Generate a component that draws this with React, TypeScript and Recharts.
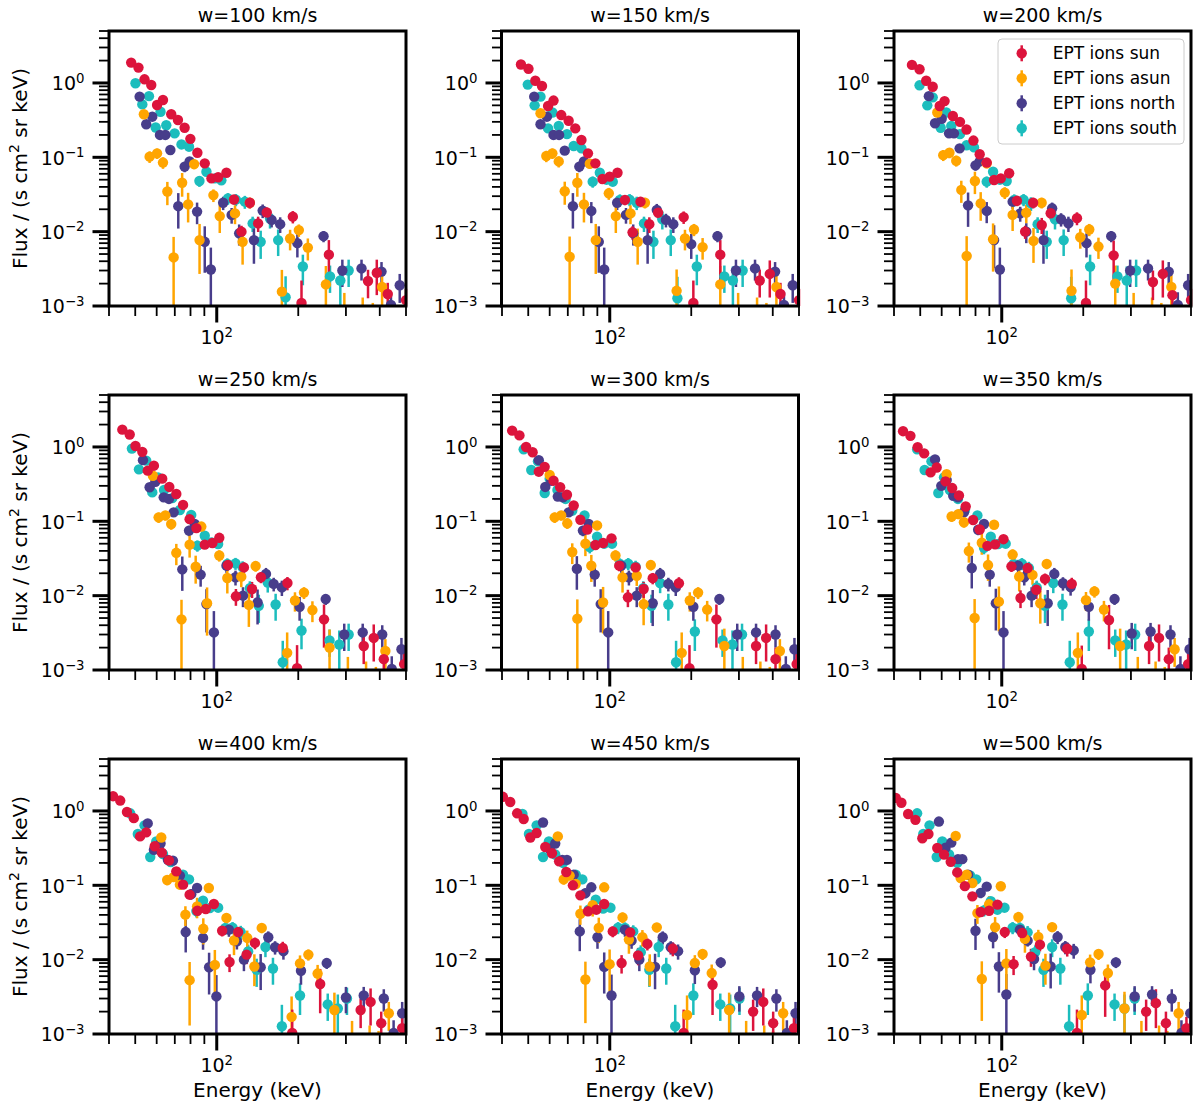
import React from 'react';
import { ScatterChart, Scatter, XAxis, YAxis, ErrorBar } from 'recharts';

// [energy keV, flux, 1-sigma error]
type Row = [number, number, number];

const FONT = '"DejaVu Sans", Verdana, sans-serif';

const COLORS = {
  sun: '#DC143C',
  asun: '#FFA500',
  north: '#483D8B',
  south: '#1CBDBD',
};

const SERIES_NAMES = ['EPT ions sun', 'EPT ions asun', 'EPT ions north', 'EPT ions south'];

const X_DOMAIN = [40, 500];
const Y_DOMAIN = [0.001, 5];
const X_TICKS = [40, 50, 60, 70, 80, 90, 100, 200, 300, 400, 500];
const Y_TICKS = [
  0.001, 0.002, 0.003, 0.004, 0.005, 0.006, 0.007, 0.008, 0.009,
  0.01, 0.02, 0.03, 0.04, 0.05, 0.06, 0.07, 0.08, 0.09,
  0.1, 0.2, 0.3, 0.4, 0.5, 0.6, 0.7, 0.8, 0.9,
  1, 2, 3, 4, 5,
];
const Y_MAJOR: Record<string, string> = { '0.001': '\u22123', '0.01': '\u22122', '0.1': '\u22121', '1': '0' };

// ---- w = 100 km/s
const w100Sun: Row[] = [[48.3,1.88,0],[51.4,1.61,0],[54.1,1.12,0],[57.3,0.94,0],[60.2,0.505,0],[63.3,0.59,0],[67.9,0.38,0],[71.9,0.318,0],[76.1,0.25,0],[79.9,0.177,0],[84.8,0.115,0],[90.3,0.083,0.005],[95.6,0.052,0.004],[101.2,0.054,0.004],[108.6,0.062,0.004],[115.8,0.0271,0.004],[123.4,0.01,0.002],[132.5,0.0245,0.004],[142.2,0.0129,0.003],[153,0.0181,0.003],[191,0.0159,0.003],[205.6,0.0011,0.0011],[259.5,0.0049,0.0028],[362,0.00217,0.0009],[390,0.0028,0.0014],[428,0.00145,0.0006],[500,0.0012,0.0005]];
const w100Asun: Row[] = [[53.8,0.38,0],[56.5,0.102,0.018],[60.2,0.113,0.018],[63.3,0.085,0.015],[65.7,0.0347,0.012],[69.3,0.0045,0.004],[74.5,0.0455,0.016],[78.4,0.0233,0.01],[82.5,0.081,0.012],[86.4,0.0077,0.005],[97.2,0.031,0.006],[102.6,0.0162,0.0066],[116.8,0.0176,0.005],[124.6,0.0073,0.0037],[132.5,0.0245,0.004],[174,0.00156,0.0015],[186.6,0.0081,0.0025],[201,0.0105,0.002],[217,0.0061,0.002],[253,0.00195,0.0015],[296,0.0006,0.0009],[346,0.0005,0.0008],[377,0.0004,0.0007],[408,0.0018,0.0008]];
const w100North: Row[] = [[51.9,0.655,0],[54.9,0.278,0],[57.8,0.352,0],[61.7,0.2,0],[64.6,0.2,0],[67.4,0.1255,0.015],[72.1,0.022,0.011],[76.1,0.075,0.012],[79.4,0.088,0.012],[84.6,0.0186,0.006],[90.3,0.0073,0.0045],[95.1,0.0031,0.003],[105.6,0.0245,0.005],[113.5,0.0168,0.004],[121,0.0095,0.003],[137.2,0.0077,0.004],[147.8,0.0192,0.004],[159.5,0.0144,0.003],[171.5,0.0126,0.003],[198.5,0.007,0.0025],[248,0.0087,0.0015],[291,0.003,0.0012],[342.5,0.0032,0.001],[406,0.0029,0.001],[440,0.00103,0.0005],[474,0.0019,0.0008]];
const w100South: Row[] = [[50.1,0.99,0],[53.1,0.515,0],[56.2,0.665,0],[59.5,0.252,0],[62,0.41,0],[65.1,0.27,0],[69.9,0.21,0],[74.1,0.149,0.01],[79,0.139,0.01],[86.3,0.048,0.008],[91.6,0.064,0.008],[98.4,0.052,0.006],[104,0.049,0.006],[110,0.028,0.005],[117.7,0.027,0.005],[127,0.0253,0.005],[135.7,0.0129,0.003],[145.3,0.0073,0.003],[157.3,0.015,0.004],[168.6,0.0077,0.003],[179.6,0.00131,0.0012],[208,0.0034,0.0015],[262,0.0025,0.001],[286,0.0022,0.0012],[307,0.003,0.0012]];

// ---- w = 150 km/s
const w150Sun: Row[] = [[47,1.77,0],[50.1,1.55,0],[53.1,1.07,0],[56.2,0.91,0],[59.2,0.49,0],[62,0.58,0],[66.2,0.37,0],[70.5,0.31,0],[74.6,0.245,0],[78.6,0.171,0],[83.1,0.113,0],[88.5,0.083,0.005],[94,0.051,0.004],[99.9,0.055,0.004],[106.8,0.062,0.004],[113.8,0.0267,0.004],[121.4,0.0098,0.002],[129.9,0.0253,0.004],[140,0.0126,0.003],[150.9,0.018,0.003],[187.5,0.0157,0.003],[203.6,0.0011,0.0011],[256,0.0049,0.0028],[358,0.0022,0.0009],[390,0.0027,0.0014],[427,0.00145,0.0006],[500,0.0012,0.0005]];
const w150Asun: Row[] = [[55.5,0.391,0],[58.3,0.104,0.018],[61.4,0.113,0.018],[64.8,0.088,0.015],[68.2,0.035,0.012],[71.1,0.0046,0.004],[75.9,0.0455,0.016],[80.3,0.0233,0.01],[84.4,0.082,0.012],[88.8,0.0077,0.005],[99.2,0.0328,0.006],[105.3,0.0162,0.0066],[119.3,0.0176,0.005],[126.8,0.0073,0.0037],[134.9,0.0245,0.004],[176.6,0.0016,0.0015],[189.6,0.0081,0.0025],[204.7,0.0107,0.002],[220.3,0.0062,0.002],[256,0.00195,0.0015],[298,0.0006,0.0009],[350,0.0005,0.0008],[379,0.0004,0.0007],[412.6,0.0018,0.0008]];
const w150North: Row[] = [[52.6,0.655,0],[55.5,0.278,0],[58.6,0.352,0],[62,0.2,0],[65,0.2,0],[68.2,0.123,0.015],[73.1,0.022,0.011],[77.2,0.075,0.012],[80.3,0.088,0.012],[85.5,0.019,0.006],[91.1,0.0073,0.0045],[95.4,0.0031,0.003],[106.5,0.0245,0.005],[114.8,0.0168,0.004],[122.1,0.0095,0.003],[138,0.0077,0.004],[149.2,0.0196,0.004],[161.3,0.0144,0.003],[171.7,0.0126,0.003],[200,0.0068,0.0025],[250,0.0087,0.0015],[292.5,0.003,0.0012],[344,0.0032,0.001],[408,0.0029,0.001],[440,0.00103,0.0005],[474,0.0019,0.0008]];
const w150South: Row[] = [[49.8,0.95,0],[52.8,0.5,0],[55.5,0.655,0],[59.2,0.245,0],[61.4,0.4,0],[64.8,0.264,0],[69.5,0.205,0],[73.6,0.142,0.01],[78.6,0.132,0.01],[86.5,0.047,0.008],[91.9,0.062,0.008],[97.3,0.05,0.006],[102.6,0.047,0.006],[109,0.0267,0.005],[118.4,0.027,0.005],[125.8,0.0245,0.005],[133.8,0.0129,0.003],[145,0.0073,0.003],[156.4,0.0147,0.004],[168,0.0077,0.003],[177.8,0.00127,0.0012],[209.7,0.0034,0.0015],[265,0.0025,0.001],[285,0.0022,0.0012],[309.6,0.003,0.0012]];

// ---- w = 200 km/s
const w200Sun: Row[] = [[46.6,1.75,0],[49.7,1.53,0],[52.6,1.07,0],[55.6,0.89,0],[59,0.49,0],[61.5,0.57,0],[66,0.36,0],[70.1,0.3,0],[74.1,0.237,0],[78.6,0.168,0],[82.9,0.11,0],[88,0.085,0.005],[93.7,0.0495,0.004],[99.2,0.052,0.004],[106.5,0.061,0.004],[113.8,0.026,0.004],[122,0.01,0.002],[130.6,0.0245,0.004],[140.5,0.0123,0.003],[151.6,0.0177,0.003],[189.6,0.0152,0.003],[204.7,0.0011,0.0011],[259,0.0048,0.0028],[361.7,0.0021,0.0009],[393.5,0.0027,0.0014],[427,0.0014,0.0006],[500,0.0012,0.0005]];
const w200Asun: Row[] = [[57.8,0.4,0],[60.8,0.107,0.018],[64.1,0.115,0.018],[67.9,0.09,0.015],[70.9,0.0364,0.012],[74.2,0.0047,0.004],[79.6,0.048,0.016],[83.6,0.024,0.01],[88,0.083,0.012],[92.9,0.0079,0.005],[102.6,0.0335,0.006],[109.7,0.0168,0.0066],[123.2,0.018,0.005],[131,0.0075,0.0037],[140.4,0.0245,0.004],[181,0.0016,0.0015],[195,0.0084,0.0025],[210.5,0.0107,0.002],[227.6,0.0063,0.002],[262.5,0.002,0.0015],[307,0.0006,0.0009],[359,0.0005,0.0008],[388.6,0.0004,0.0007],[423,0.0018,0.0008]];
const w200North: Row[] = [[53.8,0.665,0],[56.7,0.287,0],[60,0.33,0],[63.9,0.21,0],[66.6,0.21,0],[69.9,0.132,0.015],[75.1,0.0226,0.011],[80,0.078,0.012],[82.9,0.088,0.012],[88,0.019,0.006],[93.7,0.0077,0.0045],[98.4,0.0031,0.003],[109.7,0.0253,0.005],[117,0.0176,0.004],[123.2,0.01,0.003],[142.6,0.0077,0.004],[153.5,0.0206,0.004],[165.6,0.0147,0.003],[176.3,0.0129,0.003],[205.6,0.007,0.0025],[253.7,0.0087,0.0015],[298,0.003,0.0012],[347,0.0032,0.001],[413.7,0.0029,0.001],[447,0.00103,0.0005],[488,0.0019,0.0008]];
const w200South: Row[] = [[49.7,0.93,0],[53.1,0.5,0],[55.6,0.64,0],[59.5,0.25,0],[62.4,0.4,0],[65.1,0.264,0],[70.1,0.205,0],[74.1,0.145,0.01],[79,0.136,0.01],[88,0.047,0.008],[92.9,0.064,0.008],[98.4,0.05,0.006],[104.3,0.048,0.006],[111.2,0.0267,0.005],[120.4,0.027,0.005],[128.2,0.024,0.005],[135.7,0.0126,0.003],[146.6,0.0073,0.003],[157.3,0.0147,0.004],[169.3,0.0077,0.003],[180.5,0.00127,0.0012],[212,0.0034,0.0015],[267.5,0.0025,0.001],[289.5,0.0022,0.0012],[313.6,0.003,0.0012]];

// ---- w = 250 km/s
const w250Sun: Row[] = [[44.8,1.71,0],[47.7,1.47,0],[50.1,1.03,0],[53.1,0.86,0],[55.6,0.48,0],[58.6,0.56,0],[62.9,0.375,0],[66.8,0.29,0],[70.9,0.233,0],[75.1,0.166,0],[79.4,0.107,0],[84.1,0.081,0.005],[90.3,0.0485,0.004],[96.4,0.051,0.004],[102.2,0.06,0.004],[110,0.0258,0.004],[117.7,0.0098,0.0025],[126,0.024,0.004],[135,0.0123,0.003],[145.6,0.0177,0.003],[182.4,0.0148,0.003],[198,0.00106,0.0011],[249,0.0048,0.0028],[349,0.0021,0.0009],[380,0.0027,0.0014],[414,0.0014,0.0006],[492,0.0012,0.0005]];
const w250Asun: Row[] = [[58.1,0.41,0],[61,0.113,0.018],[64.6,0.12,0.018],[67.9,0.092,0.015],[70.9,0.0377,0.012],[74.1,0.0048,0.004],[79.4,0.0485,0.016],[83.6,0.0245,0.01],[87.7,0.085,0.012],[92.1,0.0079,0.005],[102.2,0.0347,0.006],[109.4,0.0173,0.0066],[123.2,0.018,0.005],[131.4,0.0075,0.0037],[139.2,0.025,0.004],[182,0.0017,0.0015],[194.5,0.0086,0.0025],[210,0.011,0.002],[225.6,0.0064,0.002],[261,0.002,0.0015],[305,0.0006,0.0009],[356,0.0005,0.0008],[387,0.0004,0.0007],[419.6,0.0018,0.0008]];
const w250North: Row[] = [[53.4,0.665,0],[56.5,0.287,0],[59.3,0.34,0],[63.7,0.21,0],[66.6,0.2,0],[69.3,0.132,0.015],[74.6,0.0226,0.011],[79,0.075,0.012],[82.9,0.092,0.012],[87.2,0.0192,0.006],[91.6,0.0077,0.0045],[97.6,0.0032,0.003],[108.6,0.0253,0.005],[117.3,0.0177,0.004],[125,0.01,0.003],[141.5,0.0081,0.004],[152,0.0196,0.004],[162.3,0.0144,0.003],[174,0.0129,0.003],[202.3,0.0071,0.0025],[252.6,0.009,0.0015],[295.7,0.003,0.0012],[346,0.0032,0.001],[408.5,0.003,0.001],[443,0.00103,0.0005],[481,0.0019,0.0008]];
const w250South: Row[] = [[48.6,0.95,0],[51.6,0.5,0],[54.9,0.655,0],[57.8,0.245,0],[60.7,0.39,0],[63.9,0.264,0],[68.5,0.205,0],[73.1,0.142,0.01],[80.5,0.122,0.01],[84.8,0.047,0.008],[90.3,0.064,0.008],[95.6,0.052,0.006],[101.2,0.0495,0.006],[109.4,0.0267,0.005],[117.3,0.0272,0.005],[124.6,0.024,0.005],[132.5,0.0126,0.003],[143,0.0073,0.003],[154.3,0.015,0.004],[165,0.0076,0.003],[175.3,0.00127,0.0012],[205.6,0.0034,0.0015],[261,0.0025,0.001],[283.5,0.0022,0.0012],[307,0.003,0.0012]];

// ---- w = 300 km/s
const w300Sun: Row[] = [[43.6,1.66,0],[46.4,1.43,0],[49.1,1,0],[51.9,0.85,0],[54.7,0.465,0],[57.5,0.54,0],[62,0.352,0],[65.6,0.287,0],[69.5,0.228,0],[73.6,0.163,0],[77.9,0.105,0],[82.6,0.0776,0.005],[88.5,0.048,0.004],[94.5,0.051,0.004],[101.5,0.059,0.004],[108.4,0.0253,0.004],[116.7,0.0095,0.0025],[124.6,0.024,0.004],[133.4,0.0123,0.003],[144.1,0.0172,0.003],[180.1,0.0147,0.003],[197,0.00106,0.0011],[247.7,0.0048,0.0028],[347,0.0021,0.0009],[378,0.0027,0.0014],[409.5,0.0014,0.0006],[490,0.0012,0.0005]];
const w300Asun: Row[] = [[60,0.42,0],[62.6,0.113,0.018],[66.2,0.12,0.018],[69.7,0.094,0.015],[72.7,0.0386,0.012],[75.9,0.0049,0.004],[81.3,0.05,0.016],[85.5,0.0253,0.01],[89.8,0.088,0.012],[94.5,0.0081,0.005],[105,0.0347,0.006],[111.5,0.0176,0.0066],[125.8,0.0185,0.005],[133.4,0.0077,0.0037],[141.8,0.0258,0.004],[184.4,0.0017,0.0015],[197.5,0.0086,0.0025],[212,0.011,0.002],[229,0.0065,0.002],[265,0.0021,0.0015],[310,0.0006,0.0009],[360,0.0005,0.0008],[390,0.0004,0.0007],[425,0.0018,0.0008]];
const w300North: Row[] = [[54.7,0.665,0],[57.8,0.29,0],[60.8,0.352,0],[64.3,0.215,0],[67.2,0.21,0],[70.5,0.132,0.015],[75.6,0.023,0.011],[79.6,0.075,0.012],[83.6,0.092,0.012],[88,0.0192,0.006],[92.6,0.0077,0.0045],[98.7,0.0032,0.003],[110.3,0.0253,0.005],[117.7,0.0177,0.004],[125.8,0.01,0.003],[144.1,0.0079,0.004],[153.5,0.0196,0.004],[164.6,0.0144,0.003],[175.3,0.0129,0.003],[203.6,0.0071,0.0025],[254,0.009,0.0015],[295.7,0.003,0.0012],[347,0.0032,0.001],[409.5,0.003,0.001],[447,0.00103,0.0005],[481,0.0019,0.0008]];
const w300South: Row[] = [[48.1,0.93,0],[51.3,0.49,0],[54.3,0.64,0],[57.5,0.24,0],[60,0.375,0],[64.1,0.264,0],[68.7,0.2,0],[72.7,0.139,0.01],[80.7,0.12,0.01],[84.4,0.045,0.008],[89.8,0.062,0.008],[95.4,0.05,0.006],[102,0.05,0.006],[109,0.0267,0.005],[117,0.027,0.005],[124.6,0.0245,0.005],[132.9,0.0126,0.003],[142.6,0.0073,0.003],[153.5,0.0148,0.004],[164.6,0.0076,0.003],[175.8,0.00127,0.0012],[206.2,0.0033,0.0015],[261,0.0025,0.001],[284,0.0022,0.0012],[308,0.003,0.0012]];

// ---- w = 350 km/s
const w350Sun: Row[] = [[43.2,1.63,0],[46,1.41,0],[48.9,0.99,0],[51.7,0.82,0],[54.6,0.455,0],[57.5,0.53,0],[62,0.345,0],[65.6,0.28,0],[69.5,0.223,0],[73.6,0.158,0],[78.4,0.104,0],[82.9,0.0776,0.005],[88.5,0.0467,0.004],[94.5,0.049,0.004],[101.5,0.0575,0.004],[108.6,0.0248,0.004],[117.3,0.0093,0.0025],[124.6,0.0235,0.004],[134.2,0.012,0.003],[144.5,0.0168,0.003],[181.4,0.0144,0.003],[197.5,0.00103,0.0011],[249,0.0047,0.0028],[350,0.0021,0.0009],[381,0.0027,0.0014],[414,0.0014,0.0006],[488,0.0012,0.0005]];
const w350Asun: Row[] = [[62.6,0.43,0],[65.3,0.116,0.018],[69.1,0.125,0.018],[72.5,0.097,0.015],[75.6,0.0398,0.012],[79.4,0.005,0.004],[84.4,0.0515,0.016],[89,0.0258,0.01],[93.7,0.09,0.012],[97.6,0.0083,0.005],[109.7,0.0357,0.006],[116,0.018,0.0066],[129.9,0.019,0.005],[138.8,0.0079,0.0037],[146.6,0.0267,0.004],[191,0.0017,0.0015],[204.7,0.0087,0.0025],[220,0.0114,0.002],[238.5,0.0065,0.002],[273.7,0.0021,0.0015],[318,0.0006,0.0009],[370,0.0005,0.0008],[400,0.0004,0.0007],[435,0.0019,0.0008]];
const w350North: Row[] = [[56.7,0.68,0],[59.8,0.3,0],[62.6,0.36,0],[66.2,0.22,0],[68.9,0.21,0],[72.5,0.132,0.015],[77.5,0.0235,0.011],[81.8,0.077,0.012],[86,0.092,0.012],[90.3,0.0192,0.006],[95.1,0.0079,0.0045],[101.5,0.0032,0.003],[115,0.0253,0.005],[121.1,0.0177,0.004],[128.9,0.01,0.003],[147.8,0.0079,0.004],[156.4,0.0196,0.004],[168.3,0.0147,0.003],[179.6,0.013,0.003],[209.7,0.0071,0.0025],[261,0.009,0.0015],[302,0.0031,0.0012],[354.5,0.0033,0.001],[420,0.003,0.001],[457,0.00103,0.0005],[494,0.0019,0.0008]];
const w350South: Row[] = [[48.7,0.93,0],[51.9,0.49,0],[55,0.64,0],[58.3,0.24,0],[61.2,0.39,0],[64.3,0.264,0],[68.9,0.2,0],[73.1,0.142,0.01],[81.3,0.12,0.01],[86,0.044,0.008],[91.1,0.062,0.008],[97,0.0495,0.006],[103.4,0.05,0.006],[110.6,0.0267,0.005],[118.7,0.027,0.005],[126,0.0235,0.005],[134.6,0.0129,0.003],[144.5,0.0073,0.003],[155,0.0148,0.004],[167.6,0.0076,0.003],[178.3,0.00127,0.0012],[209.7,0.0033,0.0015],[262.5,0.0025,0.001],[288,0.0022,0.0012],[311,0.003,0.0012]];

// ---- w = 400 km/s
const w400Sun: Row[] = [[41.4,1.58,0],[44,1.38,0],[46.6,0.97,0],[49.4,0.8,0],[52.1,0.455,0],[54.9,0.515,0],[59,0.335,0],[62.7,0.275,0],[66.6,0.216,0],[70.9,0.154,0],[75.1,0.102,0],[79.4,0.0748,0.005],[84.8,0.0455,0.004],[91.1,0.048,0.004],[97.6,0.056,0.004],[104.7,0.0245,0.004],[111.5,0.0093,0.0025],[120,0.0235,0.004],[128.9,0.0117,0.003],[138.4,0.0168,0.003],[175.3,0.0144,0.003],[190,0.00103,0.0011],[241,0.0047,0.0028],[340,0.0021,0.0009],[370,0.0027,0.0014],[405,0.0014,0.0006],[484,0.0012,0.0005]];
const w400Asun: Row[] = [[62.4,0.44,0],[65.6,0.118,0.018],[69.3,0.129,0.018],[73.1,0.102,0.015],[76.6,0.0403,0.012],[79.4,0.0053,0.004],[84.6,0.052,0.016],[89.2,0.026,0.01],[93.5,0.092,0.012],[98.4,0.0085,0.005],[108.6,0.0364,0.006],[115.8,0.0181,0.0066],[129.6,0.0196,0.005],[137.7,0.0081,0.0037],[146.6,0.0267,0.004],[189,0.0017,0.0015],[203,0.0089,0.0025],[218,0.0117,0.002],[235.8,0.0065,0.002],[272,0.0021,0.0015],[316,0.0006,0.0009],[367,0.0005,0.0008],[396,0.0004,0.0007],[432,0.0019,0.0008]];
const w400North: Row[] = [[55.6,0.68,0],[58.6,0.3,0],[62,0.365,0],[66,0.22,0],[68.9,0.215,0],[73.1,0.135,0.015],[76.8,0.0235,0.011],[80.5,0.076,0.012],[84.6,0.092,0.012],[89,0.0196,0.006],[93.7,0.0079,0.0045],[99.7,0.0032,0.003],[110.9,0.0253,0.005],[118.7,0.0177,0.004],[126,0.01,0.003],[145.3,0.0079,0.004],[155,0.02,0.004],[164.2,0.0147,0.003],[176.3,0.013,0.003],[204.7,0.0071,0.0025],[254.8,0.009,0.0015],[300,0.0031,0.0012],[349,0.0033,0.001],[414,0.003,0.001],[450,0.00103,0.0005],[484,0.0019,0.0008]];
const w400South: Row[] = [[47.9,0.93,0],[51.1,0.49,0],[54.1,0.64,0],[56.8,0.24,0],[59.8,0.39,0],[63.3,0.264,0],[67.6,0.205,0],[75.1,0.139,0.01],[79,0.12,0.01],[84.1,0.045,0.008],[89,0.062,0.008],[94.3,0.0495,0.006],[101.2,0.05,0.006],[107.6,0.0267,0.005],[114.4,0.027,0.005],[122.6,0.0235,0.005],[130.6,0.0129,0.003],[140.4,0.0073,0.003],[151.3,0.0148,0.004],[161.3,0.0076,0.003],[174,0.00127,0.0012],[203,0.0033,0.0015],[257,0.0025,0.001],[280,0.0022,0.0012],[302.6,0.003,0.0012]];

// ---- w = 450 km/s
const w450Sun: Row[] = [[40.3,1.55,0],[42.9,1.32,0],[45.5,0.93,0],[48.1,0.78,0],[50.9,0.44,0],[53.7,0.505,0],[57.8,0.328,0],[61.2,0.27,0],[65,0.21,0],[69.1,0.151,0],[73.1,0.1,0],[77.9,0.0733,0.005],[83.1,0.0447,0.004],[89.2,0.047,0.004],[95.4,0.056,0.004],[102.6,0.024,0.004],[110.6,0.009,0.0025],[119,0.0233,0.004],[127.3,0.0114,0.003],[137.7,0.0163,0.003],[171,0.0141,0.003],[187.5,0.00103,0.0011],[239.7,0.0046,0.0028],[338.5,0.002,0.0009],[369,0.0027,0.0014],[401.4,0.0014,0.0006],[479,0.0012,0.0005]];
const w450Asun: Row[] = [[64.3,0.455,0],[67.6,0.12,0.018],[71.1,0.135,0.018],[74.9,0.104,0.015],[77.9,0.0414,0.012],[81.3,0.0054,0.004],[86.5,0.054,0.016],[91.1,0.0267,0.01],[95.4,0.094,0.012],[99.9,0.0087,0.005],[111.5,0.037,0.006],[117.7,0.0186,0.0066],[132,0.02,0.005],[140.5,0.0081,0.0037],[149.2,0.0272,0.004],[193,0.0018,0.0015],[206.2,0.009,0.0025],[220.3,0.0119,0.002],[238,0.0066,0.002],[276,0.0021,0.0015],[319,0.0006,0.0009],[372,0.0005,0.0008],[401,0.0004,0.0007],[437,0.0019,0.0008]];
const w450North: Row[] = [[56.7,0.7,0],[60,0.31,0],[62.9,0.365,0],[66.8,0.22,0],[69.5,0.22,0],[73.6,0.139,0.015],[77.5,0.024,0.011],[81.3,0.0785,0.012],[85.5,0.094,0.012],[90.1,0.02,0.006],[95.4,0.008,0.0045],[101.5,0.0033,0.003],[113.8,0.0253,0.005],[120.4,0.018,0.004],[128.6,0.01,0.003],[147,0.008,0.004],[156.9,0.02,0.004],[168,0.0147,0.003],[178.8,0.013,0.003],[206.2,0.0072,0.0025],[257,0.0092,0.0015],[301,0.0032,0.0012],[350,0.0033,0.001],[412.5,0.003,0.001],[451,0.00103,0.0005],[485.5,0.0019,0.0008]];
const w450South: Row[] = [[47.6,0.91,0],[50.3,0.49,0],[53.7,0.64,0],[56.7,0.24,0],[59.6,0.39,0],[62.9,0.26,0],[67.2,0.2,0],[74.9,0.139,0.01],[79.2,0.12,0.01],[83.6,0.047,0.008],[88.8,0.064,0.008],[94.5,0.0485,0.006],[100.6,0.05,0.006],[107.3,0.027,0.005],[113.8,0.0267,0.005],[122.1,0.024,0.005],[130.2,0.0126,0.003],[140,0.0073,0.003],[151.6,0.0148,0.004],[161.7,0.0076,0.003],[174.5,0.00127,0.0012],[203.6,0.0033,0.0015],[256,0.0025,0.001],[278.4,0.0022,0.0012],[301.4,0.003,0.0012]];

// ---- w = 500 km/s
const w500Sun: Row[] = [[40.6,1.5,0],[42.6,1.29,0],[45.1,0.91,0],[48,0.76,0],[50.9,0.43,0],[53.6,0.49,0],[57.8,0.318,0],[61.2,0.259,0],[64.8,0.207,0],[68.5,0.149,0],[73.1,0.0975,0],[77.9,0.071,0.005],[83.6,0.0437,0.004],[89.8,0.0455,0.004],[96.4,0.055,0.004],[102.6,0.0235,0.004],[110.6,0.0087,0.0025],[119,0.0228,0.004],[128.2,0.011,0.003],[138.4,0.0159,0.003],[174.5,0.014,0.003],[189.6,0.00103,0.0011],[241,0.0045,0.0028],[341.4,0.002,0.0009],[371,0.0026,0.0014],[404,0.0014,0.0006],[481,0.0012,0.0005]];
const w500Asun: Row[] = [[67.6,0.46,0],[70.5,0.125,0.018],[74.2,0.139,0.018],[77.9,0.107,0.015],[81.3,0.0423,0.012],[84.4,0.0055,0.004],[89.8,0.0555,0.016],[94.5,0.0274,0.01],[99.2,0.097,0.012],[104,0.0089,0.005],[115.2,0.0374,0.006],[121.8,0.019,0.0066],[136.5,0.0202,0.005],[145,0.0083,0.0037],[153.5,0.0274,0.004],[197.5,0.0018,0.0015],[212,0.0092,0.0025],[227.8,0.0119,0.002],[246.6,0.0066,0.002],[284,0.0022,0.0015],[328,0.0006,0.0009],[381,0.0005,0.0008],[409,0.0004,0.0007],[450,0.0019,0.0008]];
const w500North: Row[] = [[58.6,0.72,0],[62,0.32,0],[65.1,0.375,0],[68.9,0.225,0],[71.5,0.225,0],[75.1,0.139,0.015],[80,0.0245,0.011],[83.6,0.079,0.012],[88,0.096,0.012],[92.9,0.0202,0.006],[97.6,0.0081,0.0045],[104,0.0034,0.003],[116.7,0.0253,0.005],[124.6,0.018,0.003],[131.6,0.0102,0.003],[151.6,0.0081,0.004],[160.8,0.0202,0.004],[171.7,0.0148,0.003],[184.4,0.0133,0.003],[212.6,0.0073,0.0025],[264,0.0092,0.0015],[309.6,0.0032,0.0012],[359,0.0034,0.001],[424.6,0.003,0.001],[461,0.00103,0.0005],[497,0.0019,0.0008]];
const w500South: Row[] = [[48.7,0.93,0],[51.3,0.49,0],[54.1,0.64,0],[57.5,0.24,0],[60.3,0.39,0],[63.9,0.26,0],[68.5,0.2,0],[76.4,0.136,0.01],[80.5,0.12,0.01],[86,0.046,0.008],[91.1,0.061,0.008],[96.4,0.047,0.006],[102.4,0.05,0.006],[109.7,0.027,0.005],[116.7,0.0267,0.005],[124.6,0.0233,0.005],[132.9,0.0126,0.003],[142.6,0.0073,0.003],[153.5,0.0148,0.004],[164.6,0.0076,0.003],[177.3,0.00127,0.0012],[207.9,0.0033,0.0015],[261,0.0025,0.001],[284,0.0022,0.0012],[309.6,0.003,0.0012]];

const PANELS = [
  { title: 'w=100 km/s', sun: w100Sun, asun: w100Asun, north: w100North, south: w100South },
  { title: 'w=150 km/s', sun: w150Sun, asun: w150Asun, north: w150North, south: w150South },
  { title: 'w=200 km/s', sun: w200Sun, asun: w200Asun, north: w200North, south: w200South },
  { title: 'w=250 km/s', sun: w250Sun, asun: w250Asun, north: w250North, south: w250South },
  { title: 'w=300 km/s', sun: w300Sun, asun: w300Asun, north: w300North, south: w300South },
  { title: 'w=350 km/s', sun: w350Sun, asun: w350Asun, north: w350North, south: w350South },
  { title: 'w=400 km/s', sun: w400Sun, asun: w400Asun, north: w400North, south: w400South },
  { title: 'w=450 km/s', sun: w450Sun, asun: w450Asun, north: w450North, south: w450South },
  { title: 'w=500 km/s', sun: w500Sun, asun: w500Asun, north: w500North, south: w500South },
];

// plot-box geometry (page pixels)
const COL_LEFT = [109, 501.5, 894];
const ROW_TOP = [31, 395, 759];
const BOX_W = 297;
const BOX_H = 275;
const PAD_L = 100;
const PAD_T = 40;
const PAD_R = 10;
const PAD_B = 60;
const MARKER_R = 5.2;

// ErrorBar is not clipped by the plot area, so cut the bars at the y-axis range here
const toPoints = (rows: Row[]) =>
  rows.map(([e, f, s]) => {
    const low = Math.max(f - s, Y_DOMAIN[0]);
    const high = Math.min(f + s, Y_DOMAIN[1]);
    return { e, f, err: [f - low, high - f] };
  });

const XTick = (props: any) => {
  const { x, y, payload } = props;
  const major = payload.value === 100;
  return (
    <g>
      <line x1={x} x2={x} y1={y} y2={y + (major ? 16.5 : 10)} stroke="#000" strokeWidth={major ? 3 : 1.8} />
      {major && (
        <text x={x} y={y + 38} textAnchor="middle" fontSize={19} fontFamily={FONT} fill="#000">
          10<tspan dy={-7.5} fontSize={13.3}>2</tspan>
        </text>
      )}
    </g>
  );
};

const YTick = (props: any) => {
  const { x, y, payload } = props;
  const exp = Y_MAJOR[String(payload.value)];
  const major = exp !== undefined;
  return (
    <g>
      <line x1={x} x2={x - (major ? 16.5 : 10)} y1={y} y2={y} stroke="#000" strokeWidth={major ? 3 : 1.8} />
      {major && (
        <text x={x - 24.5} y={y + 7.2} textAnchor="end" fontSize={19} fontFamily={FONT} fill="#000">
          10<tspan dy={-7.5} fontSize={13.3}>{exp}</tspan>
        </text>
      )}
    </g>
  );
};

const dot = (color: string) => (props: any) => {
  const { cx, cy } = props;
  if (cx == null || cy == null || Number.isNaN(cx) || Number.isNaN(cy)) return <g />;
  return <circle cx={cx} cy={cy} r={MARKER_R} fill={color} />;
};

function Panel({ panel, left, top }: { panel: typeof PANELS[number]; left: number; top: number }) {
  const order: [keyof typeof COLORS, Row[]][] = [
    ['south', panel.south],
    ['north', panel.north],
    ['asun', panel.asun],
    ['sun', panel.sun],
  ];
  return (
    <div style={{ position: 'absolute', left: left - PAD_L, top: top - PAD_T }}>
      <ScatterChart
        width={PAD_L + BOX_W + PAD_R}
        height={PAD_T + BOX_H + PAD_B}
        margin={{ top: PAD_T, right: PAD_R, bottom: 0, left: 0 }}
      >
        <XAxis
          dataKey="e"
          type="number"
          scale="log"
          domain={X_DOMAIN}
          allowDataOverflow
          ticks={X_TICKS}
          interval={0}
          tick={XTick}
          tickLine={false}
          axisLine={false}
          tickSize={0}
          tickMargin={0}
          height={PAD_B}
        />
        <YAxis
          dataKey="f"
          type="number"
          scale="log"
          domain={Y_DOMAIN}
          allowDataOverflow
          ticks={Y_TICKS}
          interval={0}
          tick={YTick}
          tickLine={false}
          axisLine={false}
          tickSize={0}
          tickMargin={0}
          width={PAD_L}
        />
        {order.map(([key, rows]) => (
          <Scatter
            key={key}
            name={key}
            data={toPoints(rows)}
            fill={COLORS[key]}
            shape={dot(COLORS[key])}
            isAnimationActive={false}
          >
            <ErrorBar
              dataKey="err"
              direction="y"
              width={0}
              stroke={COLORS[key]}
              strokeWidth={2.5}
              isAnimationActive={false}
            />
          </Scatter>
        ))}
      </ScatterChart>
    </div>
  );
}

export default function App() {
  const legendKeys: (keyof typeof COLORS)[] = ['sun', 'asun', 'north', 'south'];
  return (
    <div style={{ position: 'absolute', left: 0, top: 0, width: 1200, height: 1112, background: '#fff', fontFamily: FONT }}>
      {PANELS.map((p, i) => (
        <Panel key={p.title} panel={p} left={COL_LEFT[i % 3]} top={ROW_TOP[Math.floor(i / 3)]} />
      ))}
      <svg
        width={1200}
        height={1112}
        style={{ position: 'absolute', left: 0, top: 0, pointerEvents: 'none' }}
        fontFamily={FONT}
      >
        {PANELS.map((p, i) => {
          const l = COL_LEFT[i % 3];
          const t = ROW_TOP[Math.floor(i / 3)];
          return (
            <g key={p.title}>
              <rect x={l} y={t} width={BOX_W} height={BOX_H} fill="none" stroke="#000" strokeWidth={3} />
              <text x={l + BOX_W / 2} y={t - 9.5} textAnchor="middle" fontSize={19} fill="#000">
                {p.title}
              </text>
            </g>
          );
        })}
        {ROW_TOP.map((t) => (
          <text
            key={t}
            transform={`translate(27, ${t + BOX_H / 2}) rotate(-90)`}
            textAnchor="middle"
            fontSize={20}
            fill="#000"
          >
            Flux / (s cm<tspan dy={-8} fontSize={14}>2</tspan>
            <tspan dy={8}> sr keV)</tspan>
          </text>
        ))}
        {COL_LEFT.map((l) => (
          <text key={l} x={l + BOX_W / 2} y={1097} textAnchor="middle" fontSize={20} fill="#000">
            Energy (keV)
          </text>
        ))}
        <g>
          <rect x={998} y={39} width={186} height={105} rx={4} fill="#fff" fillOpacity={0.8} stroke="#ccc" strokeWidth={1} />
          {legendKeys.map((k, i) => {
            const cy = 53.3 + i * 25;
            return (
              <g key={k}>
                <line x1={1021.7} x2={1021.7} y1={cy - 8} y2={cy + 8} stroke={COLORS[k]} strokeWidth={2.5} />
                <circle cx={1021.7} cy={cy} r={MARKER_R} fill={COLORS[k]} />
                <text x={1052.7} y={cy + 6} fontSize={17} fill="#000">
                  {SERIES_NAMES[i]}
                </text>
              </g>
            );
          })}
        </g>
      </svg>
    </div>
  );
}
